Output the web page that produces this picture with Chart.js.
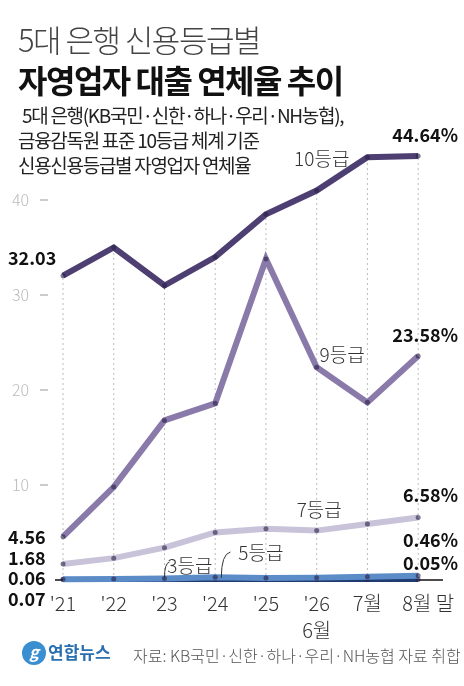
<!DOCTYPE html>
<html><head><meta charset="utf-8">
<script src="https://cdn.jsdelivr.net/npm/chart.js@4/dist/chart.umd.min.js"></script>
<style>
body{margin:0;background:#fff;font-family:"Noto Sans CJK KR",sans-serif;}
#w{position:relative;width:464px;height:686px;}
canvas{position:absolute;left:0;top:0;}
.t{position:absolute;left:18px;color:#222;white-space:nowrap;}
</style></head><body>
<div id="w">
<canvas id="c" width="464" height="686"></canvas>
<div class="t" style="top:16px;font-size:31px;font-weight:300;color:#444;letter-spacing:-1.5px">5대 은행 신용등급별</div>
<div class="t" style="top:56px;font-size:32px;font-weight:700;color:#111;letter-spacing:-1.5px">자영업자 대출 연체율 추이</div>
<div class="t" style="top:102px;left:22px;font-size:19px;line-height:25px;color:#222;letter-spacing:-1.3px">5대 은행(KB국민·신한·하나·우리·NH농협),<br><span style="margin-left:-4px">금융감독원 표준 10등급 체계 기준</span><br><span style="margin-left:-4px">신용신용등급별 자영업자 연체율</span></div>
</div>
<script>
const categories=["'21","'22","'23","'24","'25","'26","7월","8월 말"];
const g10=[32.03,35.0,31.0,34.0,38.5,41.0,44.5,44.64];
const g9=[4.56,9.8,16.8,18.6,33.8,22.4,18.7,23.58];
const g7=[1.68,2.3,3.4,5.0,5.4,5.2,5.9,6.58];
const g5=[0.07,0.1,0.15,0.3,0.2,0.25,0.35,0.46];
const g3=[0.06,0.05,0.05,0.06,0.05,0.04,0.05,0.05];
const yTicks=[10,20,30,40];
const pts=a=>a.map((v,i)=>({x:i,y:v}));
const ds=(d,c,w)=>({data:pts(d),borderColor:c,backgroundColor:c,borderWidth:w,pointRadius:2.5,pointBackgroundColor:'rgba(40,30,70,0.6)',pointBorderWidth:0,clip:false,tension:0});
const F='"Noto Sans CJK KR",sans-serif';
const deco={id:'deco',
 beforeDatasetsDraw(ch){const c=ch.ctx,x=ch.scales.x,y=ch.scales.y;
  c.save();c.setLineDash([2,3]);c.strokeStyle='#bbb';c.lineWidth=1;
  g10.forEach((v,i)=>{c.beginPath();c.moveTo(x.getPixelForValue(i),y.getPixelForValue(0));c.lineTo(x.getPixelForValue(i),y.getPixelForValue(v));c.stroke();});
  c.setLineDash([]);c.strokeStyle='#111';c.lineWidth=1.5;c.beginPath();c.moveTo(ch.chartArea.left,y.getPixelForValue(0));c.lineTo(ch.chartArea.right,y.getPixelForValue(0));c.stroke();
  c.fillStyle='#bbb';c.strokeStyle='#bbb';c.font='300 16px '+F;c.textBaseline='middle';
  yTicks.forEach(t=>{const py=y.getPixelForValue(t);c.fillText(String(t),12,py);c.beginPath();c.moveTo(40,py);c.lineTo(48,py);c.stroke();});
  c.restore();},
 afterDatasetsDraw(ch){const c=ch.ctx,x=ch.scales.x,y=ch.scales.y;
  c.save();c.fillStyle='#111';c.textBaseline='middle';
  c.font='bold 18px '+F;c.textAlign='left';
  const L=(t,v,dy)=>c.fillText(t,8,y.getPixelForValue(v)+(dy||0));
  L('32.03',g10[0],-18);L('4.56',4.56,0);L('1.68',0,-22);L('0.06',0,-2);L('0.07',0,19);
  c.textAlign='right';
  const R=(t,py)=>c.fillText(t,458,py);
  R('44.64%',y.getPixelForValue(g10[7])-21);R('23.58%',y.getPixelForValue(g9[7])-21);
  R('6.58%',y.getPixelForValue(g7[7])-22);R('0.46%',y.getPixelForValue(0)-40);R('0.05%',y.getPixelForValue(0)-17);
  c.font='300 19px '+F;c.textAlign='center';c.fillStyle='#333';
  c.fillText('10등급',x.getPixelForValue(5.1),y.getPixelForValue(g10[5])-32);
  c.fillText('9등급',x.getPixelForValue(5.5),y.getPixelForValue(g9[5])-12);
  c.fillText('7등급',x.getPixelForValue(5.05),y.getPixelForValue(g7[5])-21);
  c.fillText('3등급',x.getPixelForValue(2.5),y.getPixelForValue(0)-14);
  c.fillText('5등급',x.getPixelForValue(3.9),y.getPixelForValue(0)-27);
  c.strokeStyle='#333';c.lineWidth=1;c.beginPath();
  c.moveTo(x.getPixelForValue(2.0),y.getPixelForValue(0)-2);c.quadraticCurveTo(x.getPixelForValue(2.0),y.getPixelForValue(0)-17,x.getPixelForValue(2.1),y.getPixelForValue(0)-18);
  c.moveTo(x.getPixelForValue(3.12),y.getPixelForValue(0)-2);c.quadraticCurveTo(x.getPixelForValue(3.12),y.getPixelForValue(0)-26,x.getPixelForValue(3.3),y.getPixelForValue(0)-28);c.stroke();
  c.font='300 20px '+F;c.fillStyle='#333';
  categories.forEach((t,i)=>c.fillText(t,x.getPixelForValue(i)+(i==7?10:0),y.getPixelForValue(0)+23));
  c.fillText('6월',x.getPixelForValue(5),y.getPixelForValue(0)+50);
  c.fillStyle='#3a8fd0';c.beginPath();c.arc(34,653,12,0,7);c.fill();
  c.fillStyle='#fff';c.font='bold italic 16px '+F;c.fillText('g',34,652);
  c.fillStyle='#2a6fb0';c.font='bold 17px '+F;c.textAlign='left';c.fillText('연합뉴스',48,653);
  c.fillStyle='#555';c.font='300 16px '+F;c.fillText('자료: KB국민·신한·하나·우리·NH농협 자료 취합',133,656);
  c.restore();}};
new Chart(document.getElementById('c'),{type:'line',
 data:{datasets:[ds(g7,'#c9c3da',6),ds(g9,'#8a7aaa',6),ds(g10,'#4e3f72',6),ds(g5,'#5b8cc8',6),ds(g3,'#1f3c72',5)]},
 options:{responsive:false,animation:false,layout:{padding:{left:55,right:21,top:143,bottom:106}},
  plugins:{legend:{display:false},tooltip:{enabled:false}},
  scales:{x:{type:'linear',display:false,min:-0.158,max:7.49},y:{display:false,min:0,max:46}}},
 plugins:[deco]});
</script></body></html>
